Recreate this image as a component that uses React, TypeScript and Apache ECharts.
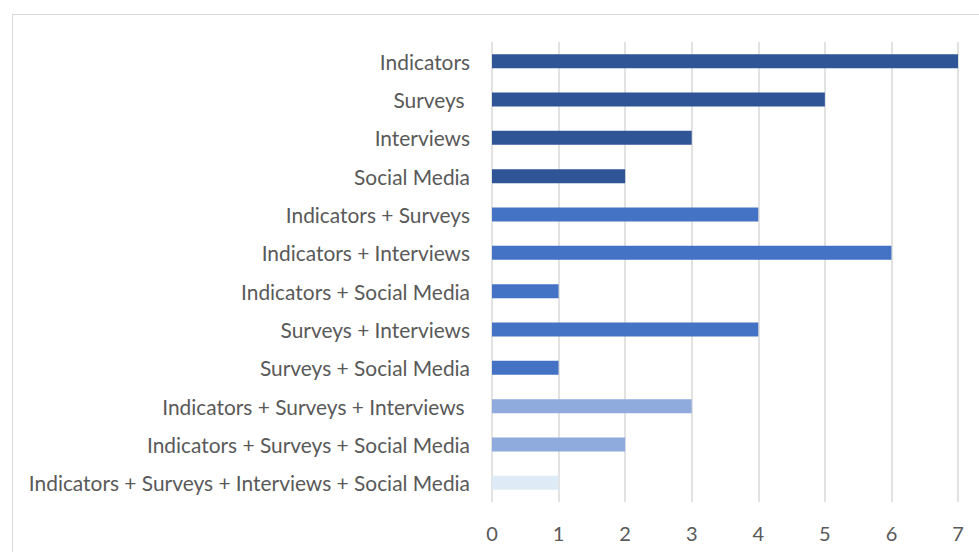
import React, { useEffect, useRef } from "react";
import * as echarts from "echarts";

const categories = [
  "Indicators",
  "Surveys ",
  "Interviews",
  "Social Media",
  "Indicators + Surveys",
  "Indicators + Interviews",
  "Indicators + Social Media",
  "Surveys + Interviews",
  "Surveys + Social Media",
  "Indicators + Surveys + Interviews ",
  "Indicators + Surveys + Social Media",
  "Indicators + Surveys + Interviews + Social Media",
];
const values = [7, 5, 3, 2, 4, 6, 1, 4, 1, 3, 2, 1];
const barColors = [
  "#2F5597", "#2F5597", "#2F5597", "#2F5597",
  "#4472C4", "#4472C4", "#4472C4", "#4472C4", "#4472C4",
  "#8FAADC", "#8FAADC",
  "#DEEBF7",
];

export default function App() {
  const ref = useRef<HTMLDivElement>(null);
  useEffect(() => {
    if (!ref.current) return;
    const chart = echarts.init(ref.current, null, { renderer: "svg" });
    chart.setOption({
      animation: false,
      grid: { left: 492, right: 21, top: 42, bottom: 50, containLabel: false },
      xAxis: {
        type: "value",
        min: 0,
        max: 7,
        interval: 1,
        axisLine: { show: false },
        axisTick: { show: false },
        axisLabel: { color: "#595959", fontSize: 20, fontFamily: "Lato", margin: 21 },
        splitLine: { show: true, lineStyle: { color: "#d9d9d9", width: 1.5 } },
      },
      yAxis: {
        type: "category",
        inverse: true,
        data: categories,
        axisLine: { show: false },
        axisTick: { show: false },
        axisLabel: { color: "#595959", fontSize: 20.9, fontFamily: "Lato", margin: 22 },
      },
      series: [
        {
          type: "bar",
          barWidth: 14,
          data: values.map((v, i) => ({ value: v, itemStyle: { color: barColors[i] } })),
        },
      ],
    });
    return () => chart.dispose();
  }, []);
  return (
    <div style={{ position: "fixed", left: 0, top: 0, width: 979, height: 552, background: "#fff", overflow: "hidden" }}>
      <div
        style={{
          position: "absolute",
          left: 12,
          top: 14,
          width: 1100,
          height: 700,
          border: "1.5px solid #d9d9d9",
          boxSizing: "border-box",
        }}
      />
      <div ref={ref} style={{ position: "absolute", left: 0, top: 0, width: 979, height: 552 }} />
    </div>
  );
}
